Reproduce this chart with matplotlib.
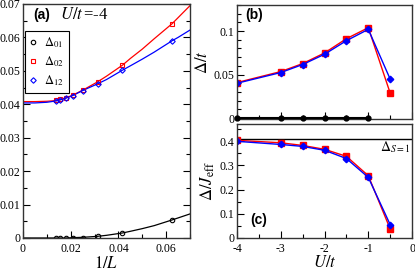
import numpy as np
import matplotlib
matplotlib.use("Agg")
from matplotlib import pyplot as plt
from matplotlib.ticker import MultipleLocator

plt.rcParams["font.family"] = ["Liberation Serif", "DejaVu Serif"]
plt.rcParams["mathtext.fontset"] = "stix"

# panel (a): finite size data vs 1/L at U/t=-4
inv_L = [1 / 72, 1 / 64, 1 / 56, 1 / 48, 1 / 40, 1 / 32, 1 / 24, 1 / 16]
d01 = [0.0, 0.0, 0.0, 0.0, 0.0001, 0.0005, 0.0015, 0.0054]
d02 = [0.0412, 0.0415, 0.0420, 0.0427, 0.0442, 0.0467, 0.0517, 0.0641]
d12 = [0.0411, 0.0414, 0.0419, 0.0426, 0.0441, 0.0461, 0.0502, 0.0590]

# fit curves
fit_x = [0.0, 0.005, 0.01, 0.0139, 0.0156, 0.0179, 0.0208, 0.025, 0.03125,
         0.035, 0.0417, 0.045, 0.05, 0.055, 0.0625, 0.065, 0.07]
fit01 = [0.0, 0.0, 0.0, 0.0, 0.0, 0.0, 0.0001, 0.0002, 0.0005,
         0.0008, 0.0015, 0.0020, 0.0028, 0.0037, 0.0054, 0.0060, 0.0072]
fit02 = [0.0408, 0.0408, 0.0409, 0.0411, 0.0414, 0.0419, 0.0427, 0.0442, 0.0467,
         0.0484, 0.0517, 0.0537, 0.0565, 0.0596, 0.0641, 0.0659, 0.0695]
fit12 = [0.0404, 0.0404, 0.0406, 0.0410, 0.0413, 0.0418, 0.0426, 0.0441, 0.0461,
         0.0474, 0.0502, 0.0515, 0.0535, 0.0556, 0.0590, 0.0600, 0.0622]

# panels (b), (c): extrapolated gaps vs U/t
U = [-4, -3, -2.5, -2, -1.5, -1, -0.5]
U01 = [-4, -3, -2.5, -2, -1.5, -1]
gap01 = [0, 0, 0, 0, 0, 0]
gap02 = [0.0408, 0.0534, 0.0626, 0.0748, 0.0912, 0.1038, 0.0286]
gap12 = [0.0400, 0.0523, 0.0615, 0.0733, 0.0889, 0.1019, 0.0447]
jeff02 = [0.403, 0.393, 0.382, 0.366, 0.337, 0.257, 0.037]
jeff12 = [0.399, 0.386, 0.378, 0.362, 0.328, 0.250, 0.055]
haldane = 0.41

fig = plt.figure(figsize=(4.15, 2.71), dpi=100)
ax_a = fig.add_axes([0.0554, 0.1218, 0.4024, 0.8635])
ax_b = fig.add_axes([0.571, 0.561, 0.422, 0.421])
ax_c = fig.add_axes([0.571, 0.1218, 0.422, 0.4202])


def style(ax, right=False):
    for s in ax.spines.values():
        s.set_color("#333333")
        s.set_linewidth(1.0)
    ax.tick_params(which="both", direction="in", labelsize=8.5, right=right,
                   top=False, width=0.8)
    ax.tick_params(axis="y", pad=2)
    ax.tick_params(axis="x", pad=3.5)
    ax.tick_params(which="major", length=5)
    ax.tick_params(which="minor", length=3)


# ---- (a)
ax_a.plot(fit_x, fit01, color="black", lw=0.9)
ax_a.plot(fit_x, fit02, color="red", lw=0.9)
ax_a.plot(fit_x, fit12, color="blue", lw=0.9)
ax_a.plot(inv_L, d01, "o", mfc="none", mec="black", ms=3.2, mew=0.8, label=r"$\Delta_{01}$")
ax_a.plot(inv_L, d02, "s", mfc="none", mec="red", ms=3.2, mew=0.8, label=r"$\Delta_{02}$")
ax_a.plot(inv_L, d12, "D", mfc="none", mec="blue", ms=2.8, mew=0.8, label=r"$\Delta_{12}$")
ax_a.set_xlim(0, 0.07)
ax_a.set_ylim(0, 0.07)
ax_a.xaxis.set_minor_locator(MultipleLocator(0.01))
ax_a.yaxis.set_minor_locator(MultipleLocator(0.005))
ax_a.set_xticks([0, 0.02, 0.04, 0.06])
ax_a.set_xticklabels(["0", "0.02", "0.04", "0.06"])
ax_a.set_yticks([0, 0.01, 0.02, 0.03, 0.04, 0.05, 0.06, 0.07])
ax_a.set_yticklabels(["0", "0.01", "0.02", "0.03", "0.04", "0.05", "0.06", "0.07"])
style(ax_a, right=True)
ax_a.set_xlabel(r"$1/L$", fontsize=12, labelpad=1)
ax_a.text(0.06, 0.953, "(a)", transform=ax_a.transAxes, fontsize=10,
          fontweight="bold", family="Liberation Sans", va="center")
ax_a.text(0.22, 0.953, r"$U/t\,$=-4", transform=ax_a.transAxes, fontsize=12, va="center")
leg = ax_a.legend(loc="upper left", bbox_to_anchor=(0.012, 0.885), borderaxespad=0,
                  fontsize=9, handlelength=0.6, handletextpad=0.6, labelspacing=0.35,
                  borderpad=0.35, fancybox=False, framealpha=1)
leg.get_frame().set_edgecolor("black")
leg.get_frame().set_linewidth(0.8)

# ---- (b)
ax_b.plot(U01, gap01, "o-", color="black", ms=3.5, lw=1.5, clip_on=False, zorder=4)
ax_b.plot(U, gap02, "s-", color="red", ms=3.8, lw=1.0)
ax_b.plot(U, gap12, "D-", color="blue", ms=3.3, lw=1.0)
ax_b.set_xlim(-4, 0)
ax_b.set_ylim(-0.001, 0.13)
ax_b.xaxis.set_major_locator(MultipleLocator(1))
ax_b.xaxis.set_minor_locator(MultipleLocator(0.5))
ax_b.set_yticks([0, 0.05, 0.1])
ax_b.set_yticklabels(["0", "0.05", "0.1"])
ax_b.yaxis.set_minor_locator(MultipleLocator(0.01))
ax_b.set_xticklabels([])
style(ax_b)
ax_b.set_ylabel(r"$\Delta/t$", fontsize=12, labelpad=2)
ax_b.text(-3.82, 0.118, "(b)", fontsize=10, fontweight="bold",
          family="Liberation Sans", va="center")

# ---- (c)
ax_c.axhline(haldane, color="black", lw=1.0)
ax_c.plot(U, jeff02, "s-", color="red", ms=3.8, lw=1.0)
ax_c.plot(U, jeff12, "D-", color="blue", ms=3.3, lw=1.0)
ax_c.set_xlim(-4, 0)
ax_c.set_ylim(0, 0.47)
ax_c.xaxis.set_minor_locator(MultipleLocator(0.5))
ax_c.set_yticks([0, 0.1, 0.2, 0.3, 0.4])
ax_c.set_yticklabels(["0", "0.1", "0.2", "0.3", "0.4"])
ax_c.yaxis.set_minor_locator(MultipleLocator(0.05))
ax_c.set_xticks([-4, -3, -2, -1, 0])
ax_c.set_xticklabels(["-4", "-3", "-2", "-1", "0"])
style(ax_c)
ax_c.set_xlabel(r"$U/t$", fontsize=12, labelpad=0)
ax_c.set_ylabel(r"$\Delta/J_{\rm eff}$", fontsize=12, labelpad=2)
ax_c.text(-0.03, 0.375, r"$\Delta_{S=1}$", fontsize=10, ha="right", va="center")
ax_c.text(-3.70, 0.074, "(c)", fontsize=10, fontweight="bold",
          family="Liberation Sans", va="center")

fig.savefig("out.png", dpi=100)
